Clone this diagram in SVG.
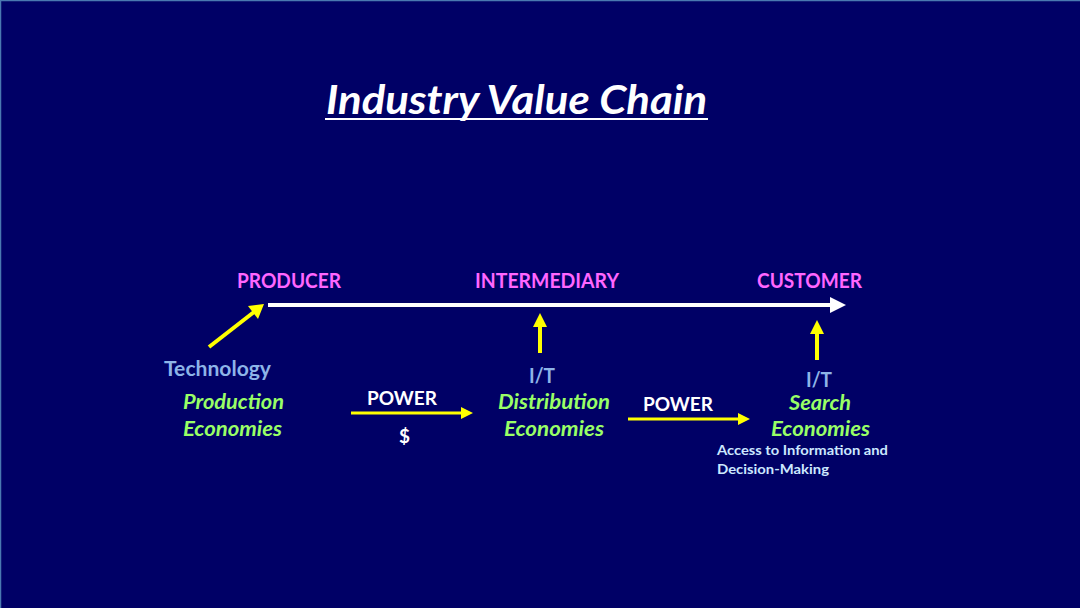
<svg xmlns="http://www.w3.org/2000/svg" width="1080" height="608" viewBox="0 0 1080 608">
<defs>
<style>
text{font-family:Lato,"Open Sans","Liberation Sans",sans-serif;font-weight:bold}
.role{fill:#ff66ff;font-size:20px}
.tech{fill:#8db4e8;font-size:20px}
.econ{fill:#99ff66;font-size:20px;font-style:italic}
.pow{fill:#ffffff;font-size:19px}
.note{fill:#cce8ff;font-size:13px}
.yl{stroke:#ffff00;stroke-width:4;fill:none}
.yh{fill:#ffff00}
</style>
</defs>
<rect x="0" y="0" width="1080" height="608" fill="#000066"/>
<line x1="0" y1="0.5" x2="1080" y2="0.5" stroke="#4a78b0" stroke-width="1.5"/>
<line x1="0.5" y1="0" x2="0.5" y2="608" stroke="#4a78b0" stroke-width="1.5"/>
<g id="title">
<text x="326" y="114" fill="#ffffff" font-size="40" font-style="italic" textLength="381" lengthAdjust="spacingAndGlyphs">Industry Value Chain</text>
<rect x="325" y="118" width="383" height="2" fill="#ffffff"/>
</g>
<g id="connectors">
<line x1="268" y1="305" x2="832" y2="305" stroke="#ffffff" stroke-width="4"/>
<polygon points="830,297 846,305 830,313" fill="#ffffff"/>
<line class="yl" x1="209" y1="347" x2="254" y2="312"/>
<polygon class="yh" points="264,304 258,319 248,306"/>
<line class="yl" x1="540" y1="353" x2="540" y2="326"/>
<polygon class="yh" points="540,313 547,327 533,327"/>
<line class="yl" x1="817" y1="360" x2="817" y2="333"/>
<polygon class="yh" points="817,320 824,334 810,334"/>
<line x1="351" y1="413" x2="462" y2="413" stroke="#ffff00" stroke-width="3"/>
<polygon class="yh" points="473,413 461,407 461,419"/>
<line x1="628" y1="419" x2="738" y2="419" stroke="#ffff00" stroke-width="3"/>
<polygon class="yh" points="750,419 738,413 738,425"/>
</g>
<g id="producer">
<text class="role" x="237" y="288" textLength="104" lengthAdjust="spacingAndGlyphs">PRODUCER</text>
</g>
<g id="intermediary">
<text class="role" x="475" y="288" textLength="144" lengthAdjust="spacingAndGlyphs">INTERMEDIARY</text>
</g>
<g id="customer">
<text class="role" x="757" y="288" textLength="105" lengthAdjust="spacingAndGlyphs">CUSTOMER</text>
</g>
<g id="technology">
<text class="tech" x="164" y="376" textLength="107" lengthAdjust="spacingAndGlyphs">Technology</text>
</g>
<g id="production-economies">
<text class="econ" x="183" y="409" textLength="101" lengthAdjust="spacingAndGlyphs">Production</text>
<text class="econ" x="183" y="436" textLength="99" lengthAdjust="spacingAndGlyphs">Economies</text>
</g>
<g id="power-left">
<text class="pow" x="367" y="405" textLength="70" lengthAdjust="spacingAndGlyphs">POWER</text>
<text class="pow" x="399" y="443" font-size="24">$</text>
</g>
<g id="it-intermediary">
<text class="tech" x="529" y="383" textLength="26" lengthAdjust="spacingAndGlyphs">I/T</text>
</g>
<g id="distribution-economies">
<text class="econ" x="498" y="409" textLength="112" lengthAdjust="spacingAndGlyphs">Distribution</text>
<text class="econ" x="504" y="436" textLength="100" lengthAdjust="spacingAndGlyphs">Economies</text>
</g>
<g id="power-right">
<text class="pow" x="643" y="411" textLength="70" lengthAdjust="spacingAndGlyphs">POWER</text>
</g>
<g id="it-customer">
<text class="tech" x="806" y="387" textLength="26" lengthAdjust="spacingAndGlyphs">I/T</text>
</g>
<g id="search-economies">
<text class="econ" x="789" y="410" textLength="62" lengthAdjust="spacingAndGlyphs">Search</text>
<text class="econ" x="771" y="436" textLength="99" lengthAdjust="spacingAndGlyphs">Economies</text>
<text class="note" x="717" y="455" textLength="171" lengthAdjust="spacingAndGlyphs">Access to Information and</text>
<text class="note" x="717" y="474" textLength="112" lengthAdjust="spacingAndGlyphs">Decision-Making</text>
</g>
</svg>
